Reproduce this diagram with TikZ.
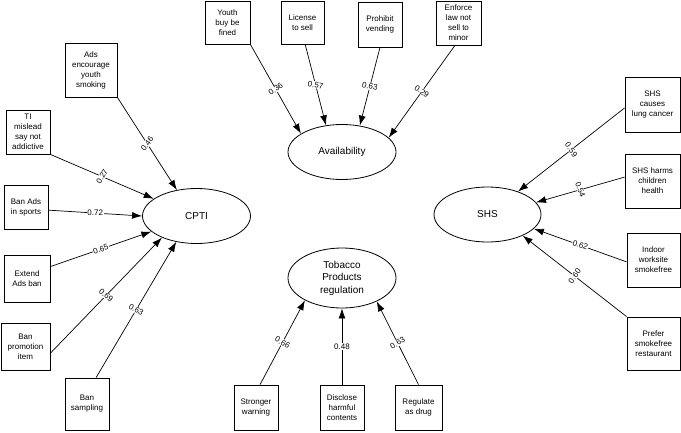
\documentclass[tikz,border=0pt]{standalone}
\usepackage{fontspec}
\setmainfont{Liberation Sans}
\usetikzlibrary{shapes.geometric,arrows.meta}

\begin{document}
\begin{tikzpicture}[
    x=1pt, y=-1pt,
    box/.style={draw, line width=0.8pt, align=center, inner sep=1pt,
        font=\fontsize{8}{10}\selectfont},
    latent/.style={draw, ellipse, line width=0.8pt, align=center, inner sep=1pt,
        minimum width=108pt, minimum height=55pt,
        font=\fontsize{10}{12.5}\selectfont},
    lbl/.style={fill=white, inner sep=0.6pt, font=\fontsize{8}{9}\selectfont},
    arrow/.style={-{Latex[length=10pt,width=7pt]}, line width=0.7pt}
]
    \useasboundingbox (0,0) rectangle (681,432);

    % latent variables
    \node[latent] (avail) at (342,152) {Availability};
    \node[latent] (cpti) at (196.5,216) {CPTI};
    \node[latent, minimum width=107pt] (shs) at (487.5,214.5) {SHS};
    \node[latent, minimum height=60pt] (tpr) at (342,278) {Tobacco\\Products\\regulation};

    % availability items
    \node[box, minimum width=45pt, minimum height=43pt] (youth) at (227.5,22.5) {Youth\\buy be\\fined};
    \node[box, minimum width=43pt, minimum height=43pt] (license) at (302.5,22.5) {License\\to sell};
    \node[box, minimum width=44pt, minimum height=45pt] (prohibit) at (380,24.5) {Prohibit\\vending};
    \node[box, minimum width=45pt, minimum height=44pt] (enforce) at (458.5,23) {Enforce\\law not\\sell to\\minor};

    % CPTI items
    \node[box, minimum width=52pt, minimum height=54pt] (ads) at (91,70) {Ads\\encourage\\youth\\smoking};
    \node[box, minimum width=44pt, minimum height=44pt] (mislead) at (28,132) {TI\\mislead\\say not\\addictive};
    \node[box, minimum width=44pt, minimum height=44pt] (banads) at (26,207) {Ban Ads\\in sports};
    \node[box, minimum width=46pt, minimum height=47pt] (extend) at (27,278.5) {Extend\\Ads ban};
    \node[box, minimum width=49pt, minimum height=47pt] (banpromo) at (25.5,346.5) {Ban\\promotion\\item};
    \node[box, minimum width=44pt, minimum height=52pt] (bansamp) at (87,404) {Ban\\sampling};

    % regulation items
    \node[box, minimum width=44pt, minimum height=45pt] (stronger) at (256,407.5) {Stronger\\warning};
    \node[box, minimum width=44pt, minimum height=45pt] (disclose) at (342,407.5) {Disclose\\harmful\\contents};
    \node[box, minimum width=47pt, minimum height=45pt] (regulate) at (418.5,407.5) {Regulate\\as drug};

    % SHS items
    \node[box, minimum width=55pt, minimum height=55pt] (causes) at (652.5,104.5) {SHS\\causes\\lung cancer};
    \node[box, minimum width=55pt, minimum height=54pt] (harms) at (652.5,181) {SHS harms\\children\\health};
    \node[box, minimum width=53pt, minimum height=54pt] (indoor) at (653.5,260) {Indoor\\worksite\\smokefree};
    \node[box, minimum width=53pt, minimum height=53pt] (prefer) at (653.5,343.5) {Prefer\\smokefree\\restaurant};

    % loadings
    \draw[arrow] (youth.south east) -- node[lbl, rotate=35] {0.36} (avail.156);
    \draw[arrow] (license.-83) -- node[lbl, rotate=-10] {0.57} (avail.121);
    \draw[arrow] (prohibit.south) -- node[lbl, rotate=-12] {0.63} (avail.56);
    \draw[arrow] (enforce.-99) -- node[lbl, rotate=-35] {0.29} (avail.17);

    \draw[arrow] (ads.south east) -- node[lbl, rotate=55] {0.46} (cpti.127);
    \draw[arrow] (mislead.south east) -- node[lbl, rotate=60] {0.27} (cpti.158);
    \draw[arrow] (banads.-8) -- node[lbl] {0.72} (cpti.west);
    \draw[arrow] (extend.27) -- node[lbl, rotate=20] {0.65} (cpti.199);
    \draw[arrow] (banpromo.-15) -- node[lbl, rotate=-40] {0.69} (cpti.212);
    \draw[arrow] (bansamp.71) -- node[lbl, rotate=-30] {0.63} (cpti.232);

    \draw[arrow] (stronger.80) -- node[lbl, rotate=-30] {0.66} (tpr.211);
    \draw[arrow] (disclose.north) -- node[lbl] {0.48} (tpr.south);
    \draw[arrow] (regulate.north) -- node[lbl, rotate=30] {0.63} (tpr.-34);

    \draw[arrow] (causes.187) -- node[lbl, rotate=-55] {0.59} (shs.37);
    \draw[arrow] (harms.172) -- node[lbl, rotate=-70] {0.54} (shs.14);
    \draw[arrow] (indoor.184) -- node[lbl, rotate=-18] {0.62} (shs.-17);
    \draw[arrow] (prefer.north west) -- node[lbl, rotate=55] {0.60} (shs.-31);
\end{tikzpicture}
\end{document}
